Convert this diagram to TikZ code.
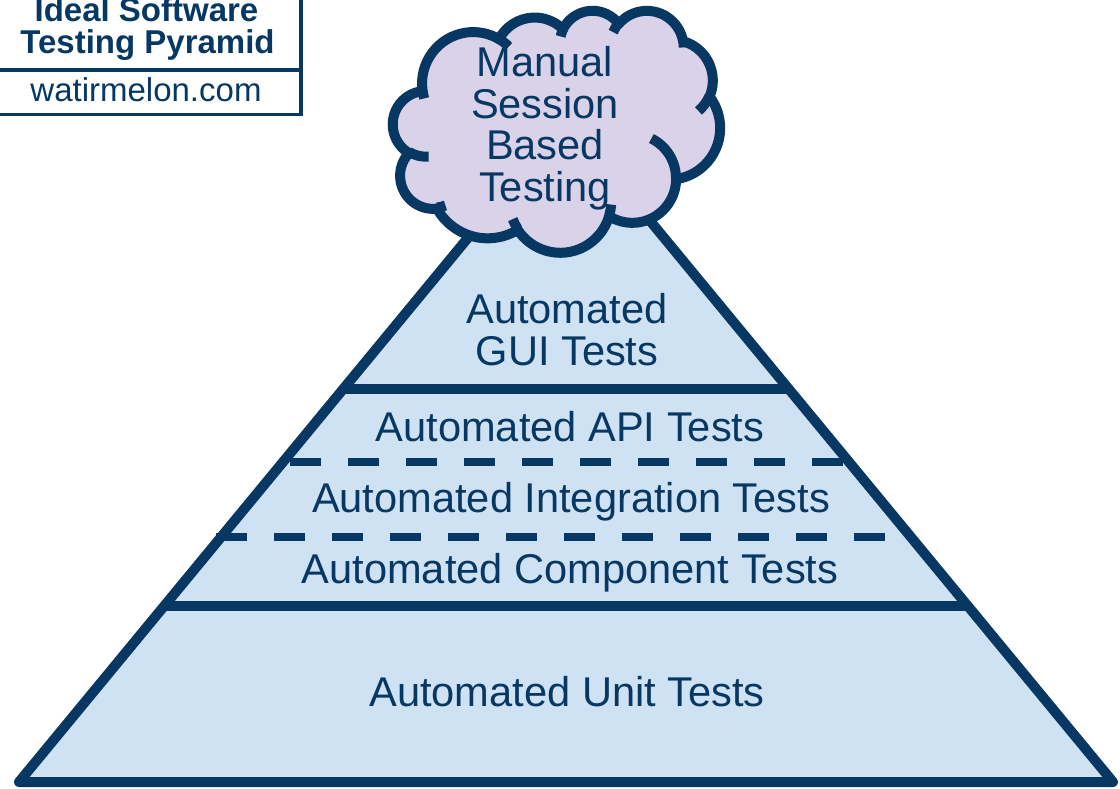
\documentclass[tikz,border=0pt]{standalone}
\usepackage{fontspec}
\setmainfont{Liberation Sans}
\usetikzlibrary{calc}
\definecolor{dblue}{HTML}{073763}
\definecolor{lblue}{HTML}{CFE2F3}
\definecolor{lpurple}{HTML}{D9D2E9}
% convert OOXML visual arc angles to parametric ones
\newcommand\prep[5]{%
  \pgfmathsetmacro\vpS{#4}%
  \pgfmathsetmacro\vpE{#4+#5}%
  \pgfmathsetmacro\vpD{Mod(atan2((#2)*sin(\vpS),(#3)*cos(\vpS))-\vpS+180,360)-180}%
  \pgfmathsetmacro\vpS{\vpS+\vpD}%
  \pgfmathsetmacro\vpD{Mod(atan2((#2)*sin(\vpE),(#3)*cos(\vpE))-\vpE+180,360)-180}%
  \pgfmathsetmacro\vpE{\vpE+\vpD}%
  \expandafter\xdef\csname cs#1\endcsname{\vpS}%
  \expandafter\xdef\csname ce#1\endcsname{\vpE}%
  \expandafter\xdef\csname crx#1\endcsname{#2}%
  \expandafter\xdef\csname cry#1\endcsname{#3}%
}
\newcommand\carc[1]{arc[start angle=\csname cs#1\endcsname, end angle=\csname ce#1\endcsname, x radius=\csname crx#1\endcsname, y radius=\csname cry#1\endcsname]}
\tikzset{
  pyr/.style={draw=dblue, line width=10pt, line join=round},
  dashln/.style={draw=dblue, line width=8pt, dash pattern=on 31pt off 27pt},
  cloudln/.style={draw=dblue, line width=10pt, line join=round},
  boxln/.style={draw=dblue, line width=3.5pt},
  lbl/.style={text=dblue, font=\fontsize{41.6}{42}\selectfont, anchor=base, inner sep=0pt},
  ttl/.style={text=dblue, font=\fontsize{33}{34}\selectfont, anchor=base, inner sep=0pt},
}
\begin{document}
\begin{tikzpicture}[x=1pt,y=-1pt]
\useasboundingbox (0,0) rectangle (1120,789);
% outer cloud arcs
\prep{1}{67.53}{91.90}{-190.4875}{123.7805}
\prep{2}{53.33}{72.67}{-144.1024}{89.9452}
\prep{3}{43.65}{59.45}{-145.8079}{99.7230}
\prep{4}{48.57}{65.95}{-130.9861}{117.2417}
\prep{5}{53.33}{72.73}{-78.7089}{109.0269}
\prep{6}{67.75}{92.20}{-46.2673}{130.2690}
\prep{7}{57.85}{78.67}{0.6250}{114.0333}
\prep{8}{67.52}{92.15}{22.4516}{115.1726}
\prep{9}{77.20}{105.43}{66.2426}{75.7110}
\prep{10}{43.60}{59.18}{-274.9421}{146.7356}
\prep{11}{43.45}{59.45}{-246.8285}{152.5189}
% inner cloud arcs
\prep{12}{43.45}{59.45}{86.7420}{26.4295}
\prep{13}{43.60}{59.18}{73.6105}{11.4475}
\prep{14}{67.52}{92.15}{137.6241}{14.0811}
\prep{15}{67.52}{92.15}{6.4533}{15.9984}
\prep{16}{57.85}{78.67}{-70.2924}{70.9174}
\prep{17}{53.33}{72.73}{30.3180}{27.7515}
\prep{18}{48.57}{65.95}{-13.7443}{14.8589}
\prep{19}{48.57}{65.95}{-149.1815}{18.1954}
\prep{20}{43.65}{59.45}{-163.4943}{17.6864}
\prep{21}{67.53}{91.90}{-66.7070}{12.3194}
\prep{22}{67.53}{91.90}{157.6544}{11.8582}

% title box
\draw[boxln] (-8,-5) rectangle (301,114.5);
\draw[boxln] (-8,70) -- (301,70);
\node[ttl, font=\bfseries\fontsize{33}{34}\selectfont] (t1) at (146.5,21.7) {Ideal Software};
\node[ttl, font=\bfseries\fontsize{33}{34}\selectfont] (t2) at (147.5,53.3) {Testing Pyramid};
\node[ttl] (t3) at (146,101.7) {watirmelon.com};

% pyramid
\coordinate (apex) at (566,119);
\coordinate (bl) at (19,782);
\coordinate (br) at (1113,782);
\draw[pyr, fill=lblue] (bl) -- (apex) -- (br) -- cycle;
\draw[pyr, line join=miter] ($(apex)!0.40724!(bl)$) -- ($(apex)!0.40724!(br)$);
\draw[pyr, line join=miter] ($(apex)!0.73454!(bl)$) -- ($(apex)!0.73454!(br)$);
\coordinate (d1a) at (290,462);
\coordinate (d1b) at (845,462);
\coordinate (d2a) at (216,537);
\coordinate (d2b) at (887,537);
\draw[dashln] (d1a) -- (d1b);
\draw[dashln] (d2a) -- (d2b);

\node[lbl] (gui1) at (567,323) {Automated};
\node[lbl] (gui2) at (567,365) {GUI Tests};
\node[lbl] (api) at (570,441) {Automated API Tests};
\node[lbl] (integ) at (571,512) {Automated Integration Tests};
\node[lbl] (comp) at (570,583) {Automated Component Tests};
\node[lbl] (unit) at (567,706) {Automated Unit Tests};

% cloud
\begin{scope}[shift={(393,10)}, x=0.757pt, y=-0.560pt]
\draw[cloudln, fill=lpurple] (39.00,143.70) \carc{1} \carc{2} \carc{3} \carc{4} \carc{5} \carc{6} \carc{7} \carc{8} \carc{9} \carc{10} \carc{11} -- cycle;
\draw[cloudln] (46.93,261.77) \carc{12}
  (69.28,348.99) \carc{13}
  (164.78,390.90) \carc{14}
  (288.27,347.51) \carc{15}
  (341.29,229.54) \carc{16}
  (417.98,153.54) \carc{17}
  (383.24,54.26) \carc{18}
  (290.78,39.52) \carc{19}
  (221.41,47.20) \carc{20}
  (140.00,51.92) \carc{21}
  (41.27,157.89) \carc{22};
\end{scope}
\node[lbl] (c1) at (545,77) {Manual};
\node[lbl] (c2) at (545,118.5) {Session};
\node[lbl] (c3) at (545,160) {Based};
\node[lbl] (c4) at (545,201.5) {Testing};
\end{tikzpicture}
\end{document}
